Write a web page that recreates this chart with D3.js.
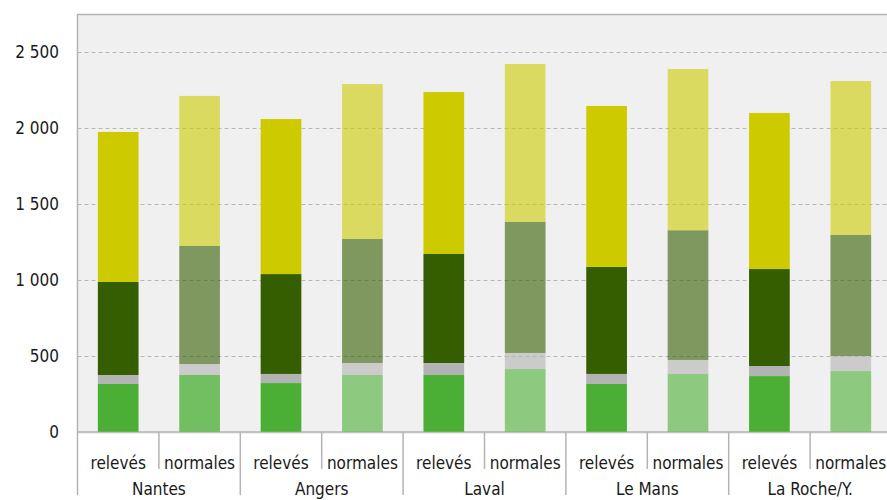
<!DOCTYPE html>
<html>
<head>
<meta charset="utf-8">
<script src="https://cdn.jsdelivr.net/npm/d3@7"></script>
<style>
  body { margin: 0; background: #fff; }
  text { font-family: "DejaVu Sans Condensed", "Liberation Sans Narrow", sans-serif; fill: #1a1a1a; }
</style>
</head>
<body>
<svg id="chart"></svg>
<script>
// Villes et types de barres
const villes = ["Nantes", "Angers", "Laval", "Le Mans", "La Roche/Y."];
const types = ["relevés", "normales"];

// Valeurs des segments (ordre : Nantes relevés, Nantes normales, Angers relevés, ...)
const seg1 = [316, 375, 322, 375, 375, 414, 316, 382, 368, 401];
const seg2 = [59, 72, 60, 79, 79, 106, 66, 92, 66, 99];
const seg3 = [612, 777, 657, 816, 717, 862, 704, 853, 638, 796];
const seg4 = [987, 987, 1020, 1019, 1066, 1039, 1059, 1061, 1027, 1013];

// Graduations de l'axe Y
const yTicks = [0, 500, 1000, 1500, 2000, 2500];

// Couleurs des segments
const couleurs = ["#4caf35", "#b3b3b3", "#345e00", "#cdcb00"];

const W = 887, H = 500;
const plot = { left: 77.5, top: 14.5, bottom: 432 };
const step = 81.4;
const fs = 17;

const svg = d3.select("#chart").attr("width", W).attr("height", H);

// Lignes de données
const rows = [];
villes.forEach((v, i) => {
  types.forEach((t, j) => {
    const k = i * 2 + j;
    rows.push({ key: v + "|" + t, ville: v, type: t, s0: seg1[k], s1: seg2[k], s2: seg3[k], s3: seg4[k] });
  });
});

const keys = ["s0", "s1", "s2", "s3"];
const stack = d3.stack().keys(keys)(rows);

// Echelles
const x = d3.scaleBand()
  .domain(rows.map(d => d.key))
  .range([plot.left, plot.left + step * rows.length]);

const y = d3.scaleLinear()
  .domain([0, 2750])
  .range([plot.bottom, plot.bottom - 2750 * 0.152]);

// Fond de la zone de tracé
svg.append("rect")
  .attr("x", plot.left)
  .attr("y", plot.top)
  .attr("width", W - plot.left + 10)
  .attr("height", plot.bottom - plot.top)
  .attr("fill", "#f0f0f0")
  .attr("stroke", "#b4b4b4")
  .attr("stroke-width", 1.5);

// Grille horizontale
svg.append("g")
  .selectAll("line")
  .data(yTicks.filter(d => d > 0))
  .join("line")
  .attr("x1", plot.left)
  .attr("x2", W)
  .attr("y1", d => Math.round(y(d)) + 0.5)
  .attr("y2", d => Math.round(y(d)) + 0.5)
  .attr("stroke", "#b8b8b8")
  .attr("stroke-dasharray", "4,3");

// Barres empilées (les normales sont transparentes)
svg.append("g")
  .selectAll("g")
  .data(stack)
  .join("g")
  .attr("fill", (d, i) => couleurs[i])
  .selectAll("rect")
  .data(d => d)
  .join("rect")
  .attr("x", d => x(d.data.key) + x.bandwidth() * 0.25)
  .attr("width", x.bandwidth() * 0.5)
  .attr("y", d => y(d[1]))
  .attr("height", d => y(d[0]) - y(d[1]))
  .attr("fill-opacity", d => d.data.type === "normales" ? (d.data.ville === "Nantes" && d[0] === 0 ? 0.77 : 0.6) : 1);

// Ligne de base
svg.append("line")
  .attr("x1", plot.left).attr("x2", W)
  .attr("y1", plot.bottom + 0.5).attr("y2", plot.bottom + 0.5)
  .attr("stroke", "#c0c0c0")
  .attr("stroke-width", 1.5);

// Axe Y
const fr = d3.formatLocale({ decimal: ",", thousands: " ", grouping: [3], currency: ["", "€"] });
const fmt = fr.format(",");
svg.append("g")
  .selectAll("text")
  .data(yTicks)
  .join("text")
  .attr("x", 59)
  .attr("y", d => y(d))
  .attr("dy", "0.36em")
  .attr("text-anchor", "end")
  .attr("font-size", fs)
  .text(d => fmt(d));

// Séparateurs de l'axe X
const axe = svg.append("g");
rows.forEach((d, i) => {
  const x0 = x(d.key);
  axe.append("line")
    .attr("x1", x0).attr("x2", x0)
    .attr("y1", plot.bottom)
    .attr("y2", i % 2 === 0 ? 495 : 469)
    .attr("stroke", "#b4b4b4")
    .attr("stroke-width", 1.5);
});

// Libellés relevés / normales
axe.selectAll(".type")
  .data(rows)
  .join("text")
  .attr("class", "type")
  .attr("x", d => x(d.key) + x.bandwidth() / 2)
  .attr("y", 469)
  .attr("text-anchor", "middle")
  .attr("font-size", fs)
  .text(d => d.type);

// Libellés des villes
axe.selectAll(".ville")
  .data(villes)
  .join("text")
  .attr("class", "ville")
  .attr("x", (d, i) => x(d + "|relevés") + x.bandwidth())
  .attr("y", 495)
  .attr("text-anchor", "middle")
  .attr("font-size", fs)
  .text(d => d);
</script>
</body>
</html>
